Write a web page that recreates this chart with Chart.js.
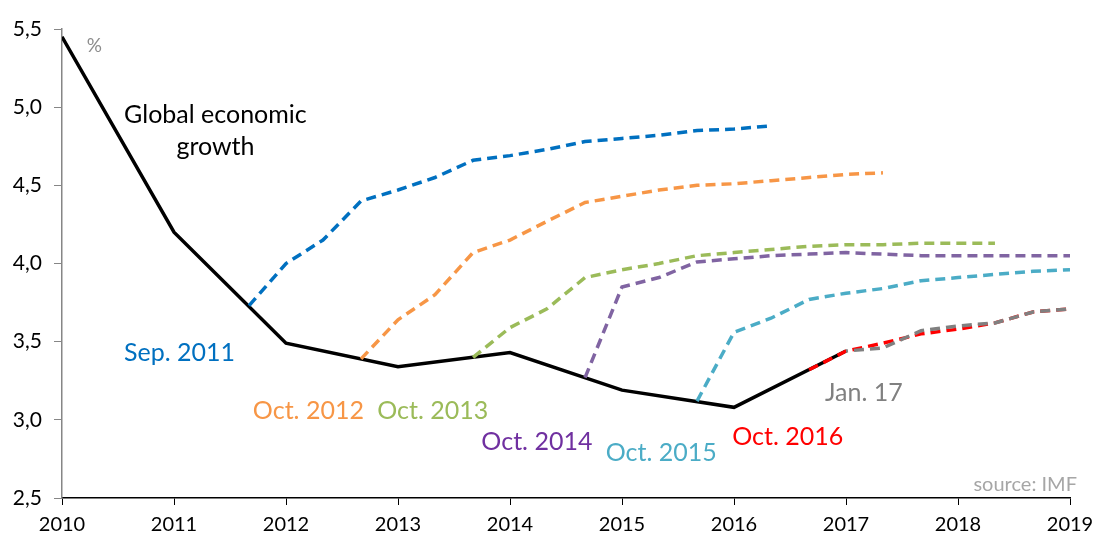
<!DOCTYPE html>
<html>
<head>
<meta charset="utf-8">
<script src="https://cdn.jsdelivr.net/npm/chart.js@4"></script>
<style>
  html, body { margin: 0; padding: 0; background: #fff; }
</style>
</head>
<body>
<canvas id="grafico-imf" width="1094" height="537"></canvas>
<script>
// Dados
const actualYears = [2010, 2011, 2012, 2013, 2014, 2015, 2016, 2017]
const actualGrowth = [5.45, 4.2, 3.49, 3.34, 3.43, 3.19, 3.08, 3.44]

const sep2011Years = [2011.67, 2012, 2012.33, 2012.67, 2013, 2013.33, 2013.67, 2014, 2014.33, 2014.67, 2015, 2015.33, 2015.67, 2016, 2016.33]
const sep2011Values = [3.73, 4.0, 4.15, 4.4, 4.47, 4.55, 4.66, 4.69, 4.73, 4.78, 4.8, 4.82, 4.85, 4.86, 4.88]

const oct2012Years = [2012.67, 2013, 2013.33, 2013.67, 2014, 2014.33, 2014.67, 2015, 2015.33, 2015.67, 2016, 2016.33, 2016.67, 2017, 2017.33]
const oct2012Values = [3.39, 3.64, 3.8, 4.07, 4.15, 4.27, 4.39, 4.43, 4.47, 4.5, 4.51, 4.53, 4.55, 4.57, 4.58]

const oct2013Years = [2013.67, 2014, 2014.33, 2014.67, 2015, 2015.33, 2015.67, 2016, 2016.33, 2016.67, 2017, 2017.33, 2017.67, 2018, 2018.33]
const oct2013Values = [3.4, 3.59, 3.71, 3.91, 3.96, 4.0, 4.05, 4.07, 4.09, 4.11, 4.12, 4.12, 4.13, 4.13, 4.13]

const oct2014Years = [2014.67, 2015, 2015.33, 2015.67, 2016, 2016.33, 2016.67, 2017, 2017.33, 2017.67, 2018, 2018.33, 2018.67, 2019]
const oct2014Values = [3.27, 3.85, 3.91, 4.01, 4.03, 4.05, 4.06, 4.07, 4.06, 4.05, 4.05, 4.05, 4.05, 4.05]

const oct2015Years = [2015.67, 2016, 2016.33, 2016.67, 2017, 2017.33, 2017.67, 2018, 2018.33, 2018.67, 2019]
const oct2015Values = [3.12, 3.56, 3.65, 3.77, 3.81, 3.84, 3.89, 3.91, 3.93, 3.95, 3.96]

const oct2016Years = [2016.67, 2017, 2017.33, 2017.67, 2018, 2018.33, 2018.67, 2019]
const oct2016Values = [3.32, 3.44, 3.49, 3.55, 3.58, 3.62, 3.69, 3.71]

const jan2017Years = [2017, 2017.33, 2017.67, 2018, 2018.33, 2018.67, 2019]
const jan2017Values = [3.44, 3.46, 3.57, 3.6, 3.62, 3.69, 3.71]

const yearTicks = [2010, 2011, 2012, 2013, 2014, 2015, 2016, 2017, 2018, 2019]

// Rótulos do gráfico (posição em coordenadas dos eixos)
const textos = [
    { text: 'Global economic', x: 2011.37, y: 4.95, color: '#000000', size: 25 },
    { text: 'growth', x: 2011.37, y: 4.745, color: '#000000', size: 25 },
    { text: '%', x: 2010.29, y: 5.39, color: '#8c8c8c', size: 19 },
    { text: 'Sep. 2011', x: 2011.05, y: 3.43, color: '#0070C0', size: 25 },
    { text: 'Oct. 2012', x: 2012.2, y: 3.06, color: '#F79646', size: 25 },
    { text: 'Oct. 2013', x: 2013.31, y: 3.06, color: '#9BBB59', size: 25 },
    { text: 'Oct. 2014', x: 2014.24, y: 2.86, color: '#7030A0', size: 25 },
    { text: 'Oct. 2015', x: 2015.35, y: 2.79, color: '#4BACC6', size: 25 },
    { text: 'Oct. 2016', x: 2016.48, y: 2.89, color: '#FF0000', size: 25 },
    { text: 'Jan. 17', x: 2017.16, y: 3.17, color: '#808080', size: 25 }
]

const FONTE = 'Lato, "Open Sans", sans-serif'

function pontos(xs, ys) {
    return xs.map((x, i) => ({ x: x, y: ys[i] }))
}

function tracejada(label, xs, ys, cor, ordem, offset) {
    return {
        label: label,
        data: pontos(xs, ys),
        borderColor: cor,
        borderWidth: 3.5,
        borderDash: [10, 6],
        borderDashOffset: offset || 0,
        pointRadius: 0,
        tension: 0,
        order: ordem
    }
}

// Plugin para escrever os rótulos
const pluginTextos = {
    id: 'textos',
    afterDatasetsDraw(chart) {
        const ctx = chart.ctx
        const sx = chart.scales.x
        const sy = chart.scales.y
        ctx.save()
        ctx.textAlign = 'center'
        ctx.textBaseline = 'middle'
        textos.forEach(t => {
            ctx.font = t.size + 'px ' + FONTE
            ctx.fillStyle = t.color
            ctx.fillText(t.text, sx.getPixelForValue(t.x), sy.getPixelForValue(t.y))
        })
        ctx.font = '20px ' + FONTE
        ctx.fillStyle = '#a6a6a6'
        ctx.textAlign = 'right'
        ctx.fillText('source: IMF', chart.chartArea.right + 7, chart.chartArea.bottom - 13)
        ctx.restore()
    }
}

new Chart(document.getElementById('grafico-imf'), {
    type: 'line',
    data: {
        datasets: [
            tracejada('Jan. 17', jan2017Years, jan2017Values, '#808080', 1, 8),
            tracejada('Oct. 2016', oct2016Years, oct2016Values, '#FF0000', 2),
            tracejada('Oct. 2015', oct2015Years, oct2015Values, '#4BACC6', 3),
            tracejada('Oct. 2014', oct2014Years, oct2014Values, '#8064A2', 4),
            tracejada('Oct. 2013', oct2013Years, oct2013Values, '#9BBB59', 5),
            tracejada('Oct. 2012', oct2012Years, oct2012Values, '#F79646', 6),
            tracejada('Sep. 2011', sep2011Years, sep2011Values, '#0070C0', 7),
            {
                label: 'Global economic growth',
                data: pontos(actualYears, actualGrowth),
                borderColor: '#000000',
                borderWidth: 3.5,
                pointRadius: 0,
                tension: 0,
                order: 8
            }
        ]
    },
    plugins: [pluginTextos],
    options: {
        responsive: false,
        animation: false,
        layout: { padding: { top: 29, right: 24, left: 0, bottom: 0 } },
        plugins: {
            legend: { display: false },
            tooltip: { enabled: false }
        },
        scales: {
            x: {
                type: 'linear',
                min: 2010,
                max: 2019,
                afterBuildTicks: axis => { axis.ticks = yearTicks.map(v => ({ value: v })) },
                afterFit: axis => {
                    axis.height = 39
                    axis.paddingLeft = 0
                    axis.paddingRight = 0
                },
                ticks: {
                    callback: v => String(v),
                    color: '#000000',
                    font: { family: FONTE, size: 20 },
                    padding: 8,
                    maxRotation: 0
                },
                grid: { drawOnChartArea: false, drawTicks: true, tickLength: 7, color: '#000000' },
                border: { color: '#000000', width: 1.5 }
            },
            y: {
                min: 2.5,
                max: 5.5,
                afterFit: axis => {
                    axis.width = 62
                    axis.paddingTop = 0
                    axis.paddingBottom = 0
                },
                ticks: {
                    stepSize: 0.5,
                    callback: v => v.toFixed(1).replace('.', ','),
                    color: '#000000',
                    font: { family: FONTE, size: 21 },
                    padding: 12
                },
                grid: { drawOnChartArea: false, drawTicks: true, tickLength: 8, color: '#868686' },
                border: { color: '#868686', width: 1.5 }
            }
        }
    }
})
</script>
</body>
</html>
